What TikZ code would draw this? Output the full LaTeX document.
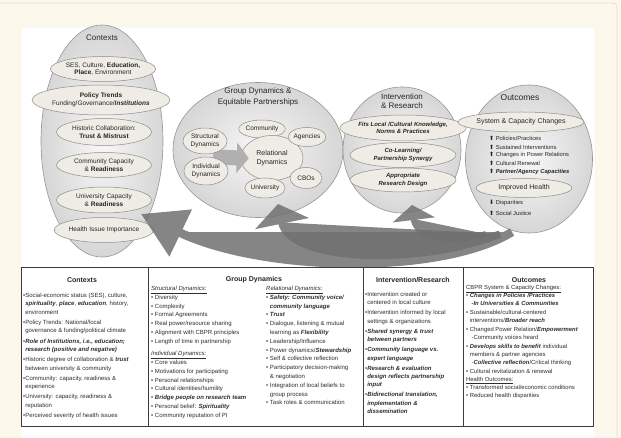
\documentclass[tikz,border=0pt]{standalone}
\usepackage{fontspec}
\setmainfont{Liberation Sans}
\newfontfamily\dejavu{DejaVu Sans}
\usetikzlibrary{arrows.meta,calc,shapes.geometric}
\definecolor{cream}{RGB}{253,248,236}
\definecolor{creamline}{RGB}{242,218,206}
\definecolor{subfill}{RGB}{238,236,228}
\definecolor{subline}{RGB}{140,140,140}
\definecolor{bigline}{RGB}{150,150,150}
\definecolor{arrowgray}{RGB}{112,112,112}
\definecolor{tableline}{RGB}{60,60,60}
\newcommand{\bfit}[1]{\textbf{\textit{#1}}}
\newcommand{\uit}[1]{\underline{\textit{#1}}}
\newcommand{\myup}{{\dejavu\fontsize{6}{7}\selectfont ⬆}}
\newcommand{\mydown}{{\dejavu\fontsize{6}{7}\selectfont ⬇}}
\begin{document}
\begin{tikzpicture}[x=1pt,y=-1pt,
  bigell/.style={ellipse, draw=bigline, line width=0.6pt, shade, inner color=gray!6, outer color=gray!32, inner sep=0pt},
  subell/.style={ellipse, draw=subline, line width=0.5pt, fill=subfill, inner sep=0pt, align=center, text=black!85, font=\fontsize{6.5}{7.6}\selectfont},
  bisub/.style={subell, font=\bfseries\itshape\fontsize{6}{7.2}\selectfont},
  ttl/.style={align=center, inner sep=0pt, text=black!85, font=\fontsize{8}{9.6}\selectfont},
  lst/.style={anchor=west, inner sep=0pt, text=black!85, font=\fontsize{5.8}{7}\selectfont},
  coltext/.style={anchor=north west, align=left, inner sep=0pt, text=black!82, font=\fontsize{6}{8.4}\selectfont},
  colhead/.style={inner sep=0pt, text=black!85, font=\bfseries\fontsize{7}{8}\selectfont},
  ribbon/.style={draw=arrowgray, fill=arrowgray, line cap=butt},
  chev/.style={draw=gray!62, line width=15pt, -{Triangle[length=12pt,width=30pt]}},
]
\useasboundingbox (0,0) rectangle (621,438);
% background
\fill[cream] (0,0) rectangle (621,438);
\draw[creamline, line width=0.8pt, rounded corners=4pt] (-4,3) rectangle (617,445);
\fill[white, draw=gray!15, rounded corners=2pt] (21,27) rectangle (595,445);

% ---------- Contexts ----------
\node[bigell, minimum width=122pt, minimum height=232pt] (ctx) at (102,141) {};
\node[ttl] (ctxt) at (102,38) {Contexts};
\node[subell, minimum width=100pt, minimum height=25pt] (c1) at (103,69) {SES, Culture, \textbf{Education,}\\\textbf{Place}, Environment};
\node[subell, minimum width=112pt, minimum height=30pt] (c2) at (101,100) {\textbf{Policy Trends}\\Funding/Governance/\bfit{Institutions}};
\node[subell, minimum width=95pt, minimum height=27pt] (c3) at (104,132) {Historic Collaboration:\\\textbf{Trust \& Mistrust}};
\node[subell, minimum width=95pt, minimum height=25pt] (c4) at (104,165) {Community Capacity\\\& \textbf{Readiness}};
\node[subell, minimum width=95pt, minimum height=26pt] (c5) at (104,200) {University Capacity\\\& \textbf{Readiness}};
\node[subell, minimum width=98pt, minimum height=25pt] (c6) at (104,230) {Health Issue Importance};

% ---------- Group dynamics ----------
\node[bigell, minimum width=170pt, minimum height=135pt] (gd) at (258,150) {};
\node[ttl, font=\fontsize{8}{10.5}\selectfont] (gdt) at (258,97) {Group Dynamics \&\\Equitable Partnerships};
\node[subell, minimum width=40pt, minimum height=18pt] (cm) at (262,129) {Community};
\node[subell, minimum width=62pt, minimum height=45pt, font=\fontsize{7}{8.4}\selectfont] (rd) at (272,158) {Relational\\Dynamics};
\node[subell, minimum width=36pt, minimum height=20pt] (un) at (265,188) {University};
\node[subell, minimum width=31pt, minimum height=19pt] (ag) at (307,137) {Agencies};
\node[subell, minimum width=32pt, minimum height=21pt] (cb) at (306,178) {CBOs};
\coordinate (chs) at (213,157);
\draw[chev, shorten >=-8pt] (chs) -- (rd.west);
\node[subell, minimum width=44pt, minimum height=26pt] (sd) at (205,141) {Structural\\Dynamics};
\node[subell, minimum width=44pt, minimum height=28pt] (id) at (206,171) {Individual\\Dynamics};

% ---------- Intervention ----------
\node[bigell, minimum width=118pt, minimum height=126pt] (ir) at (402,150) {};
\node[ttl] (irt) at (402,101) {Intervention\\\& Research};
\node[bisub, minimum width=106pt, minimum height=26pt] (f1) at (403,128) {Fits Local /Cultural Knowledge,\\Norms \& Practices};
\node[bisub, minimum width=106pt, minimum height=25pt] (f2) at (403,155) {Co-Learning/\\Partnership Synergy};
\node[bisub, minimum width=106pt, minimum height=24pt] (f3) at (403,180) {Appropriate\\Research Design};

% ---------- Outcomes ----------
\node[bigell, minimum width=127pt, minimum height=148pt] (oc) at (529,159) {};
\node[ttl, font=\fontsize{8.5}{10}\selectfont] (oct) at (520,98) {Outcomes};
\node[subell, minimum width=98pt, minimum height=20pt, font=\fontsize{7}{8}\selectfont] (sc) at (521,122) {System \& Capacity Changes};
\node[lst] (o1) at (489,138) {\myup\ Policies/Practices};
\node[lst] (o2) at (489,147) {\myup\ Sustained Interventions};
\node[lst] (o3) at (489,155) {\myup\ Changes in Power Relations};
\node[lst] (o4) at (489,163) {\myup\ Cultural Renewal};
\node[lst] (o5) at (489,172) {\myup\ \bfit{Partner/Agency Capacities}};
\node[subell, minimum width=96pt, minimum height=19pt, font=\fontsize{7}{8}\selectfont] (ih) at (524,188) {Improved Health};
\node[lst] (o6) at (489,203) {\mydown\ Disparities};
\node[lst] (o7) at (489,213) {\myup\ Social Justice};

% ---------- feedback ribbons ----------
\coordinate (a1s) at (512,232);
\coordinate (a1e) at (141,214);
\coordinate (a2s) at (500,234);
\coordinate (a2e) at (278,204);
\coordinate (a3s) at (486,234);
\coordinate (a3e) at (412,205);
\begin{scope}[transparency group, opacity=0.85]
\draw[ribbon, line width=8.5pt, -{Triangle[length=44pt,width=50pt]}] (a1s) .. controls (440,276) and (262,272) .. (a1e);
\end{scope}
\begin{scope}[transparency group, opacity=0.85]
\draw[ribbon, line width=7.5pt, -{Triangle[length=20pt,width=54pt]}] (a2s) .. controls (420,266) and (290,262) .. (a2e);
\end{scope}
\begin{scope}[transparency group, opacity=0.85]
\draw[ribbon, line width=6pt, -{Triangle[length=15pt,width=42pt]}] (a3s) .. controls (450,244) and (416,238) .. (a3e);
\end{scope}

% ---------- table ----------
\draw[tableline, line width=0.7pt] (21,267) rectangle (593,426);
\draw[tableline, line width=0.7pt] (148,267) -- (148,426) (363,267) -- (363,426) (463,267) -- (463,426);
\node[colhead] (h1) at (82,280) {Contexts};
\node[colhead] (h2) at (254,280) {Group Dynamics};
\node[colhead] (h3) at (413,280) {Intervention/Research};
\node[colhead] (h4) at (529,280) {Outcomes};

\node[coltext] (t1) at (23,293) {%
•Social-economic status (SES), culture,\\
\hphantom{•}\bfit{spirituality}, \bfit{place}, \bfit{education}, history,\\
\hphantom{•}environment\\[1.8pt]
•Policy Trends: National/local\\
\hphantom{•}governance \& funding/political climate\\[1.8pt]
•\bfit{Role of Institutions, i.e., education;}\\
\hphantom{•}\bfit{research (positive and negative)}\\[1.8pt]
•Historic degree of collaboration \& \bfit{trust}\\
\hphantom{•}between university \& community\\[1.8pt]
•Community: capacity, readiness \&\\
\hphantom{•}experience\\[1.8pt]
•University: capacity, readiness \&\\
\hphantom{•}reputation\\[1.8pt]
•Perceived severity of health issues};

\node[coltext, font=\fontsize{6}{8.8}\selectfont] (t2a) at (151,286) {%
\uit{Structural Dynamics:}\\
• Diversity\\
• Complexity\\
• Formal Agreements\\
• Real power/resource sharing\\
• Alignment with CBPR principles\\
• Length of time in partnership\\[3.5pt]
\uit{Individual Dynamics:}\\
• Core values\\
• Motivations for participating\\
• Personal relationships\\
• Cultural identities/humility\\
• \bfit{Bridge people on research team}\\
• Personal belief: \bfit{Spirituality}\\
• Community reputation of PI};

\node[coltext, font=\fontsize{6}{8.8}\selectfont] (t2b) at (266,286) {%
\uit{Relational Dynamics:}\\
• \bfit{Safety: Community voice/}\\
\hphantom{• }\bfit{community language}\\
• \bfit{Trust}\\
• Dialogue, listening \& mutual\\
\hphantom{• }learning as \bfit{Flexibility}\\
• Leadership/Influence\\
• Power dynamics/\bfit{Stewardship}\\
• Self \& collective reflection\\
• Participatory decision-making\\
\hphantom{• }\& negotiation\\
• Integration of local beliefs to\\
\hphantom{• }group process\\
• Task roles \& communication};

\node[coltext] (t3) at (365,292) {%
•Intervention created or\\
\hphantom{•}centered in local culture\\[1.6pt]
•Intervention informed by local\\
\hphantom{•}settings \& organizations\\[1.6pt]
•\bfit{Shared synergy \& trust}\\
\hphantom{•}\bfit{between partners}\\[1.6pt]
•\bfit{Community language vs.}\\
\hphantom{•}\bfit{expert language}\\[1.6pt]
•\bfit{Research \& evaluation}\\
\hphantom{•}\bfit{design reflects partnership}\\
\hphantom{•}\bfit{input}\\[1.6pt]
•\bfit{Bidirectional translation,}\\
\hphantom{•}\bfit{implementation \&}\\
\hphantom{•}\bfit{dissemination}};

\node[coltext, font=\fontsize{5.9}{8}\selectfont] (t4) at (466,285) {%
\underline{CBPR System \& Capacity Changes:}\\
• \bfit{Changes in Policies /Practices}\\
\hphantom{• \ }\bfit{-In Universities \& Communities}\\[1pt]
• Sustainable/cultural-centered\\
\hphantom{• }interventions/\bfit{Broader reach}\\[1pt]
• Changed Power Relation/\bfit{Empowerment}\\
\hphantom{• \ }-Community voices heard\\[1pt]
• \bfit{Develops skills to benefit} individual\\
\hphantom{• }members \& partner agencies\\
\hphantom{• \ }-\bfit{Collective reflection}/Critical thinking\\[1pt]
• Cultural revitalization \& renewal\\
\underline{Health Outcomes:}\\
• Transformed social/economic conditions\\
• Reduced health disparities};
\end{tikzpicture}
\end{document}
